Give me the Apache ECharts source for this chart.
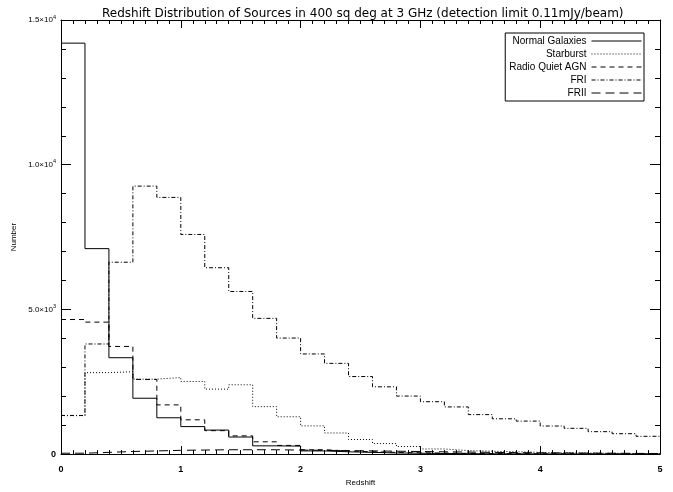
<!DOCTYPE html>
<html><head><meta charset="utf-8">
<script src="https://cdn.jsdelivr.net/npm/echarts@6/dist/echarts.min.js"></script>
<style>html,body{margin:0;padding:0;background:#fff}#c{width:673px;height:492px}</style>
</head><body><div id="c"></div>
<script>
// Bin left edges (redshift), bin width 0.2
const binStart = [0.0,0.2,0.4,0.6,0.8,1.0,1.2,1.4,1.6,1.8,2.0,2.2,2.4,2.6,2.8,3.0,3.2,3.4,3.6,3.8,4.0,4.2,4.4,4.6,4.8];
const binEnd = 5.0;

const normalGalaxies = [14200,7100,3330,1930,1255,950,830,590,285,275,110,80,60,40,30,20,15,10,8,6,5,4,3,2,2];
const starburst      = [1330,2815,2845,2590,2645,2510,2245,2395,1640,1290,975,730,505,365,262,178,120,100,80,60,45,35,28,22,18];
const radioQuietAGN  = [4650,4560,3720,2580,1700,1185,810,630,425,300,150,110,80,60,45,35,25,20,15,12,10,8,6,5,4];
const fri            = [1335,3805,6630,9260,8870,7590,6440,5620,4690,4010,3460,3135,2680,2325,2005,1810,1630,1365,1220,1140,970,890,775,705,615];
const frii           = [30,60,90,110,130,140,150,150,150,140,130,120,110,100,90,80,70,60,50,45,40,35,30,25,20];

const seriesNames = ['Normal Galaxies','Starburst','Radio Quiet AGN','FRI','FRII'];
const seriesValues = [normalGalaxies, starburst, radioQuietAGN, fri, frii];
const dashTypes = ['solid',[1,2],[5,4],[4,2,1,2],[9,5]];

const titleText = 'Redshift Distribution of Sources in 400 sq deg at 3 GHz (detection limit 0.11mJy/beam)';
const xName = 'Redshift';
const yName = 'Number';

function stepData(vals){
  const d = binStart.map((x,i)=>[x, vals[i]]);
  d.push([binEnd, vals[vals.length-1]]);
  return d;
}

function yLabel(v){
  if (v === 0) return '{z|0}';
  const e = Math.floor(Math.log10(v));
  const m = (v/Math.pow(10,e)).toFixed(1);
  return '{m|' + m + '×10}{s|' + e + '}';
}

const FONT = 'Liberation Sans';
const axisLineStyle = {color:'#000', width:1};

const chart = echarts.init(document.getElementById('c'), null, {renderer:'canvas'});
chart.setOption({
  animation:false,
  backgroundColor:'#fff',
  title:{text:titleText, left:97, top:3, textStyle:{fontSize:12, fontWeight:'normal', color:'#000', fontFamily:'DejaVu Sans'}},
  grid:{left:61, right:13, top:20, bottom:32, containLabel:false},
  legend:{
    orient:'vertical', right:29, top:33, align:'right',
    itemWidth:50, itemHeight:9, itemGap:3,
    padding:[3,2,3,4], borderColor:'#000', borderWidth:1, backgroundColor:'#fff',
    itemStyle:{opacity:0},
    lineStyle:{width:1},
    textStyle:{fontSize:10, color:'#000', fontFamily:FONT},
    data:seriesNames
  },
  xAxis:[
    {type:'value', min:0, max:5, interval:1, position:'bottom',
     axisLine:{onZero:false, lineStyle:axisLineStyle},
     axisTick:{inside:true, length:8, lineStyle:axisLineStyle},
     minorTick:{show:true, splitNumber:10, length:4, lineStyle:axisLineStyle},
     splitLine:{show:false}, minorSplitLine:{show:false},
     axisLabel:{color:'#000', fontSize:9, fontWeight:'bold', margin:11, fontFamily:FONT},
     name:xName, nameLocation:'middle', nameGap:22,
     nameTextStyle:{fontSize:8, color:'#000', fontFamily:FONT}},
    {type:'value', min:0, max:5, interval:1, position:'top',
     axisLine:{onZero:false, lineStyle:axisLineStyle},
     axisTick:{inside:true, length:8, lineStyle:axisLineStyle},
     minorTick:{show:true, splitNumber:10, length:4, lineStyle:axisLineStyle},
     splitLine:{show:false}, axisLabel:{show:false}}
  ],
  yAxis:[
    {type:'value', min:0, max:15000, interval:5000, position:'left',
     axisLine:{onZero:false, lineStyle:axisLineStyle},
     axisTick:{inside:true, length:10, lineStyle:axisLineStyle},
     minorTick:{show:true, splitNumber:5, length:5, lineStyle:axisLineStyle},
     splitLine:{show:false}, minorSplitLine:{show:false},
     axisLabel:{color:'#000', margin:5, fontFamily:FONT, formatter:yLabel,
       rich:{m:{fontSize:8, fontFamily:FONT, color:'#000'},
             s:{fontSize:5.5, fontFamily:FONT, color:'#000', padding:[0,0,6,0]},
             z:{fontSize:9, fontWeight:'bold', fontFamily:FONT, color:'#000'}}},
     name:yName, nameLocation:'middle', nameGap:41,
     nameTextStyle:{fontSize:8, color:'#000', fontFamily:FONT}},
    {type:'value', min:0, max:15000, interval:5000, position:'right',
     axisLine:{onZero:false, lineStyle:axisLineStyle},
     axisTick:{inside:true, length:10, lineStyle:axisLineStyle},
     minorTick:{show:true, splitNumber:5, length:5, lineStyle:axisLineStyle},
     splitLine:{show:false}, axisLabel:{show:false}}
  ],
  series: seriesNames.map((name,i)=>({
    name:name, type:'line', step:'end', symbol:'none', showSymbol:false,
    xAxisIndex:0, yAxisIndex:0, silent:true,
    lineStyle:{color:'#000', width:1, type:dashTypes[i]},
    itemStyle:{color:'#000'},
    data:stepData(seriesValues[i])
  }))
});
</script></body></html>
